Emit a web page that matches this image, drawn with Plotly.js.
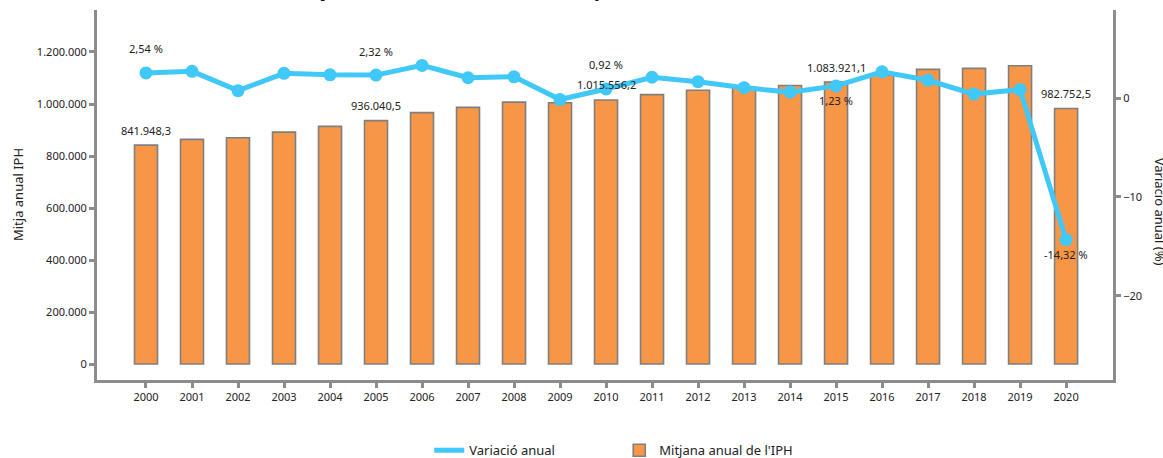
<!DOCTYPE html>
<html>
<head>
<meta charset="utf-8">
<script src="https://cdn.plot.ly/plotly-3.0.1.min.js"></script>
<style>html,body{margin:0;padding:0;background:#fff;}#chart{width:1163px;height:458px;}</style>
</head>
<body>
<div id="chart"></div>
<script>
// ---- data ----
const years = [2000,2001,2002,2003,2004,2005,2006,2007,2008,2009,2010,2011,2012,2013,2014,2015,2016,2017,2018,2019,2020];
const mitjanaIPH = [841948.3,864000,870000,892000,914000,936040.5,967000,987000,1007000,1005000,1015556.2,1036000,1053000,1065000,1071000,1083921.1,1112000,1133000,1137000,1147000,982752.5];
const variacioAnual = [2.54,2.7,0.75,2.5,2.35,2.32,3.3,2.05,2.15,-0.15,0.92,2.1,1.65,1.05,0.6,1.23,2.65,1.8,0.4,0.85,-14.32];
const labelYears = [2000,2005,2010,2015,2020];
const labelBelowYears = [2015,2020];
const leftTicks = [0,200000,400000,600000,800000,1000000,1200000];
const rightTicks = [-20,-10,0];

function fmtCat(v, dec){
  const s = Math.abs(v).toFixed(dec).split('.');
  const intPart = s[0].replace(/\B(?=(\d{3})+(?!\d))/g,'.');
  return (v<0?'-':'') + intPart + (dec>0 ? ','+s[1] : '');
}

const FONT = 'Noto Sans, Open Sans, sans-serif';
const AXC = '#8c8c8c';
const LINEC = '#40c8f8';

const lineTrace = {
  type:'scatter', mode:'lines+markers', name:'Variació anual', showlegend:false,
  x: years, y: variacioAnual, yaxis:'y2',
  line:{color:LINEC, width:5},
  marker:{color:LINEC, size:13},
  hoverinfo:'skip'
};
// legend entry for the line (line symbol only)
const lineLegend = {
  type:'scatter', mode:'lines', name:'Variació anual', showlegend:true,
  x:[null], y:[null], yaxis:'y2',
  line:{color:LINEC, width:5}, hoverinfo:'skip'
};
const barTrace = {
  type:'bar', name:"Mitjana anual de l'IPH",
  x: years, y: mitjanaIPH, width:0.5,
  marker:{color:'#f79646', line:{color:'#7f7f7f', width:1.6}},
  hoverinfo:'skip'
};

const annotations = [];
years.forEach((yr,i)=>{
  if(labelYears.indexOf(yr) < 0) return;
  annotations.push({x:yr, y:mitjanaIPH[i], xref:'x', yref:'y', text:fmtCat(mitjanaIPH[i],1),
    showarrow:false, yanchor:'middle', yshift:15, font:{family:FONT,size:11,color:'#222'}});
  const below = labelBelowYears.indexOf(yr) >= 0;
  annotations.push({x:yr, y:variacioAnual[i], xref:'x', yref:'y2', text:fmtCat(variacioAnual[i],2)+' %',
    showarrow:false, yanchor:'middle', yshift: below ? -15 : 24, font:{family:FONT,size:11,color:'#222'}});
});
// axis titles
annotations.push({xref:'paper', yref:'paper', x:-0.0777, y:0.5, xanchor:'center', yanchor:'middle',
  text:'Mitja anual IPH', textangle:-90, showarrow:false, font:{family:FONT,size:13,color:'#222'}});
annotations.push({xref:'paper', yref:'paper', x:1.0462, y:0.455, xanchor:'center', yanchor:'middle',
  text:'Variació anual (%)', textangle:90, showarrow:false, font:{family:FONT,size:13,color:'#222'}});
// title (mostly above the visible area, only descenders show)
annotations.push({xref:'paper', yref:'paper', x:0.39, y:1.057, xanchor:'center', yanchor:'middle',
  text:"<b>Mitjana anual de l'IPH i variació percentual</b>", showarrow:false, font:{family:FONT,size:19,color:'#111'}});

const layout = {
  width:1163, height:458,
  margin:{l:97, r:50, t:10, b:78, autoexpand:false},
  paper_bgcolor:'#fff', plot_bgcolor:'#fff',
  separators:',.',
  font:{family:FONT, size:11, color:'#222'},
  showlegend:true,
  legend:{orientation:'h', x:0.327, xanchor:'left', y:-0.19, yanchor:'middle',
    font:{family:FONT,size:13,color:'#222'}, entrywidth:145, entrywidthmode:'pixels', traceorder:'normal'},
  xaxis:{range:[years[0]-1.065, years[years.length-1]+1.02], tickvals:years, ticktext:years.map(String),
    showgrid:false, zeroline:false, showline:true, linecolor:AXC, linewidth:3,
    ticks:'outside', ticklen:5, tickwidth:3, tickcolor:AXC, tickfont:{family:FONT,size:11,color:'#222'}},
  yaxis:{range:[-61500,1361500], tickvals:leftTicks, tickformat:',d',
    showgrid:false, zeroline:false, showline:true, linecolor:AXC, linewidth:3,
    ticks:'outside', ticklen:5, tickwidth:3, tickcolor:AXC, tickfont:{family:FONT,size:11,color:'#222'}},
  yaxis2:{overlaying:'y', side:'right', range:[-28.5,8.9], tickvals:rightTicks,
    showgrid:false, zeroline:false, showline:true, linecolor:AXC, linewidth:3,
    ticks:'outside', ticklen:5, tickwidth:3, tickcolor:AXC, tickfont:{family:FONT,size:11,color:'#222'}},
  annotations: annotations,
  bargap:0.5
};

Plotly.newPlot('chart', [lineLegend, lineTrace, barTrace], layout, {staticPlot:true, displayModeBar:false});
</script>
</body>
</html>
